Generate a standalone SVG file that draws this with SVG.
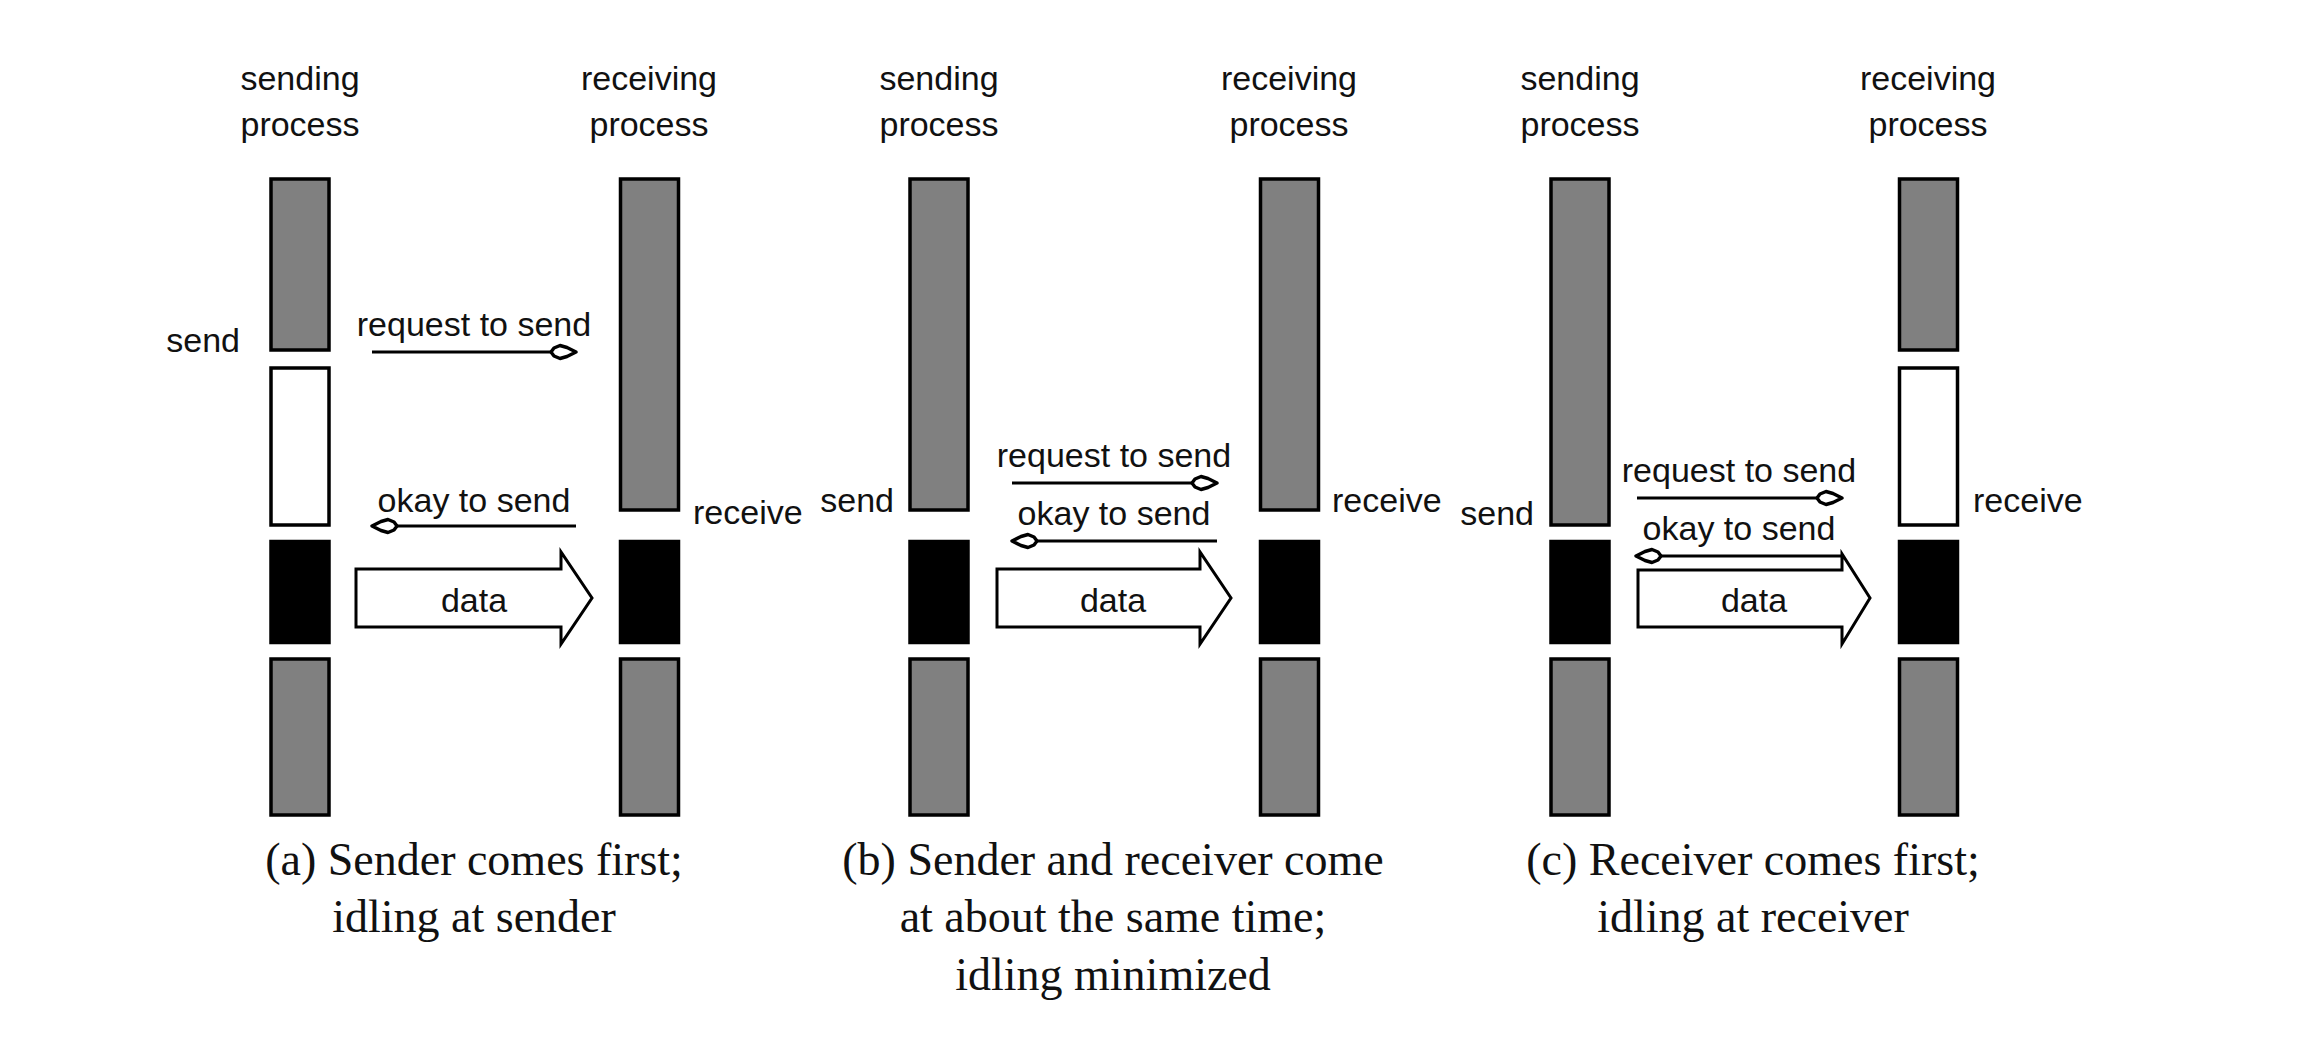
<svg xmlns="http://www.w3.org/2000/svg" width="2300" height="1064" viewBox="0 0 2300 1064">
<style>
.lbl{font-family:"Liberation Sans",Arial,sans-serif;font-size:34px;fill:#111}
.mid{text-anchor:middle}
.end{text-anchor:end}
.cap{font-family:"Liberation Serif","Times New Roman",serif;font-size:46px;fill:#111;text-anchor:middle}
.g{fill:#808080;stroke:#000;stroke-width:3.5}
.w{fill:#fff;stroke:#000;stroke-width:3.5}
.k{fill:#000;stroke:#000;stroke-width:3.5}
.msg{fill:none;stroke:#000;stroke-width:3;marker-end:url(#ah)}
.data{fill:#fff;stroke:#000;stroke-width:3;stroke-linejoin:miter}
</style>
<defs>
<marker id="ah" viewBox="-28 -9 31 18" refX="0" refY="0" markerWidth="31" markerHeight="18" markerUnits="userSpaceOnUse" orient="auto">
<path d="M1,0 L-8,-4.5 L-15,-6.5 L-21,-4 L-24,0 L-21,4 L-15,6.5 L-8,4.5 Z" fill="#fff" stroke="#000" stroke-width="3.4" stroke-linejoin="round"/>
</marker>
</defs>
<rect width="2300" height="1064" fill="#fff"/>

<!-- Panel (a) -->
<g id="a-sender">
<text class="lbl mid" x="300" y="90">sending</text>
<text class="lbl mid" x="300" y="136">process</text>
<rect class="g" x="271" y="179" width="58" height="171"/>
<rect class="w" x="271" y="368" width="58" height="157"/>
<rect class="k" x="271" y="541.5" width="58" height="101"/>
<rect class="g" x="271" y="659" width="58" height="156"/>
<text class="lbl end" x="240" y="352">send</text>
</g>
<g id="a-receiver">
<text class="lbl mid" x="649" y="90">receiving</text>
<text class="lbl mid" x="649" y="136">process</text>
<rect class="g" x="620.5" y="179" width="58" height="331"/>
<rect class="k" x="620.5" y="541.5" width="58" height="101"/>
<rect class="g" x="620.5" y="659" width="58" height="156"/>
<text class="lbl" x="693" y="524">receive</text>
</g>

<!-- Panel (b) -->
<g id="b-sender">
<text class="lbl mid" x="939" y="90">sending</text>
<text class="lbl mid" x="939" y="136">process</text>
<rect class="g" x="910" y="179" width="58" height="331"/>
<rect class="k" x="910" y="541.5" width="58" height="101"/>
<rect class="g" x="910" y="659" width="58" height="156"/>
<text class="lbl end" x="894" y="512">send</text>
</g>
<g id="b-receiver">
<text class="lbl mid" x="1289" y="90">receiving</text>
<text class="lbl mid" x="1289" y="136">process</text>
<rect class="g" x="1260.5" y="179" width="58" height="331"/>
<rect class="k" x="1260.5" y="541.5" width="58" height="101"/>
<rect class="g" x="1260.5" y="659" width="58" height="156"/>
<text class="lbl" x="1332" y="512">receive</text>
</g>

<!-- Panel (c) -->
<g id="c-sender">
<text class="lbl mid" x="1580" y="90">sending</text>
<text class="lbl mid" x="1580" y="136">process</text>
<rect class="g" x="1551" y="179" width="58" height="346"/>
<rect class="k" x="1551" y="541.5" width="58" height="101"/>
<rect class="g" x="1551" y="659" width="58" height="156"/>
<text class="lbl end" x="1534" y="525">send</text>
</g>
<g id="c-receiver">
<text class="lbl mid" x="1928" y="90">receiving</text>
<text class="lbl mid" x="1928" y="136">process</text>
<rect class="g" x="1899.5" y="179" width="58" height="171"/>
<rect class="w" x="1899.5" y="368" width="58" height="157"/>
<rect class="k" x="1899.5" y="541.5" width="58" height="101"/>
<rect class="g" x="1899.5" y="659" width="58" height="156"/>
<text class="lbl" x="1973" y="512">receive</text>
</g>

<g id="connectors">
<!-- (a) -->
<line class="msg" x1="372" y1="352" x2="575" y2="352"/>
<text class="lbl mid" x="474" y="336">request to send</text>
<line class="msg" x1="576" y1="526" x2="373" y2="526"/>
<text class="lbl mid" x="474" y="512">okay to send</text>
<polygon class="data" points="356,569 561,569 561,552 592,598 561,644 561,627 356,627"/>
<text class="lbl mid" x="474" y="612">data</text>
<!-- (b) -->
<line class="msg" x1="1012" y1="483" x2="1216" y2="483"/>
<text class="lbl mid" x="1114" y="467">request to send</text>
<line class="msg" x1="1217" y1="541" x2="1013" y2="541"/>
<text class="lbl mid" x="1114" y="525">okay to send</text>
<polygon class="data" points="997,569 1200,569 1200,552 1231,598 1200,644 1200,627 997,627"/>
<text class="lbl mid" x="1113" y="612">data</text>
<!-- (c) -->
<line class="msg" x1="1637" y1="498" x2="1841" y2="498"/>
<text class="lbl mid" x="1739" y="482">request to send</text>
<line class="msg" x1="1842" y1="556" x2="1637" y2="556"/>
<text class="lbl mid" x="1739" y="540">okay to send</text>
<polygon class="data" points="1638,570 1842,570 1842,554 1870,598 1842,644 1842,627 1638,627"/>
<text class="lbl mid" x="1754" y="612">data</text>
</g>

<g id="captions">
<text class="cap" x="474" y="875">(a) Sender comes first;</text>
<text class="cap" x="474" y="932">idling at sender</text>
<text class="cap" x="1113" y="875">(b) Sender and receiver come</text>
<text class="cap" x="1113" y="932">at about the same time;</text>
<text class="cap" x="1113" y="990">idling minimized</text>
<text class="cap" x="1753" y="875">(c) Receiver comes first;</text>
<text class="cap" x="1753" y="932">idling at receiver</text>
</g>
</svg>
